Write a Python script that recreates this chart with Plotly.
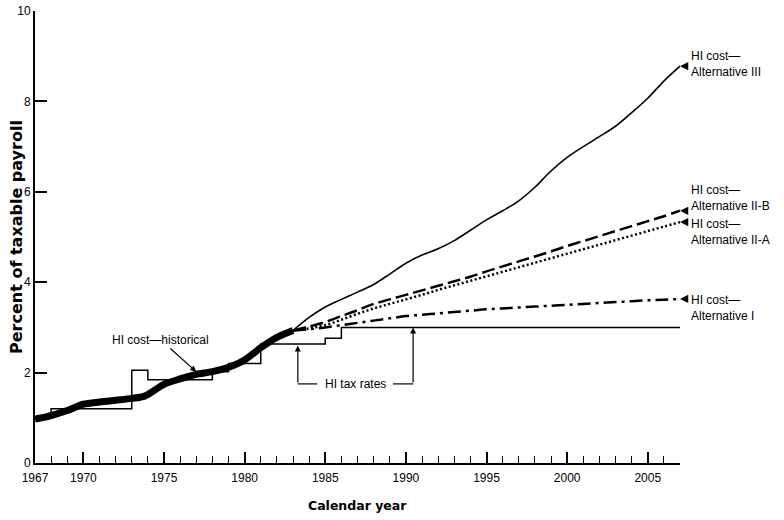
import plotly.graph_objects as go

# ---------------- data ----------------
hist_years = [1967, 1968, 1969, 1970, 1971, 1972, 1973, 1973.8, 1975, 1976, 1977, 1978, 1979, 1980, 1981, 1982, 1983]
hist_cost = [0.97, 1.05, 1.16, 1.30, 1.35, 1.39, 1.43, 1.48, 1.74, 1.86, 1.96, 2.02, 2.12, 2.28, 2.55, 2.78, 2.93]

tax_years = [1967, 1968, 1973, 1974, 1978, 1979, 1981, 1985, 1986, 2007]
tax_rates = [1.0, 1.2, 2.05, 1.84, 2.02, 2.2, 2.63, 2.76, 3.0, 3.0]

proj_years = [1983, 1984, 1985, 1986, 1987, 1988, 1989, 1990, 1991, 1992, 1993, 1994, 1995,
              1996, 1997, 1998, 1999, 2000, 2001, 2002, 2003, 2004, 2005, 2006, 2007]
alt_III = [2.93, 3.22, 3.45, 3.62, 3.78, 3.95, 4.18, 4.42, 4.60, 4.74, 4.92, 5.15, 5.38,
           5.58, 5.80, 6.10, 6.46, 6.76, 7.00, 7.22, 7.45, 7.75, 8.07, 8.45, 8.78]
alt_IIB = [2.93, 3.02, 3.12, 3.25, 3.38, 3.52, 3.62, 3.72, 3.82, 3.92, 4.02, 4.12, 4.24,
           4.35, 4.46, 4.57, 4.68, 4.80, 4.91, 5.02, 5.13, 5.24, 5.35, 5.46, 5.58]
alt_IIA = [2.93, 2.98, 3.05, 3.17, 3.30, 3.42, 3.52, 3.62, 3.72, 3.83, 3.93, 4.03, 4.13,
           4.23, 4.33, 4.43, 4.53, 4.63, 4.73, 4.83, 4.93, 5.03, 5.13, 5.23, 5.33]
alt_I = [2.93, 2.96, 3.00, 3.05, 3.10, 3.15, 3.20, 3.25, 3.28, 3.31, 3.34, 3.37, 3.40,
         3.42, 3.44, 3.46, 3.48, 3.50, 3.52, 3.54, 3.56, 3.58, 3.60, 3.61, 3.63]

x_tick_vals = [1967, 1970, 1975, 1980, 1985, 1990, 1995, 2000, 2005]
x_tick_text = ["1967", "1970", "1975", "1980", "1985", "1990", "1995", "2000", "2005"]
y_tick_vals = [0, 2, 4, 6, 8, 10]

alt_labels = ["HI cost—<br>Alternative III", "HI cost—<br>Alternative II-B",
              "HI cost—<br>Alternative II-A", "HI cost—<br>Alternative I"]
alt_label_y = [8.82, 5.86, 5.11, 3.43]

FONT = "Liberation Sans, Arial, Helvetica, sans-serif"
BOLD = "DejaVu Sans, Liberation Sans, Arial, sans-serif"

fig = go.Figure()

# tax rate step line
fig.add_trace(go.Scatter(x=tax_years, y=tax_rates, mode="lines",
                         line=dict(color="black", width=1.5, shape="hv"),
                         hoverinfo="skip", showlegend=False))

# projections
fig.add_trace(go.Scatter(x=proj_years, y=alt_I, mode="lines",
                         line=dict(color="black", width=2.5, dash="13px,5px,3px,5px", shape="spline"),
                         showlegend=False))
fig.add_trace(go.Scatter(x=proj_years, y=alt_IIA, mode="lines",
                         line=dict(color="black", width=2.5, dash="2px,2.5px", shape="spline"),
                         showlegend=False))
fig.add_trace(go.Scatter(x=proj_years, y=alt_IIB, mode="lines",
                         line=dict(color="black", width=2.5, dash="13px,5px", shape="spline"),
                         showlegend=False))
fig.add_trace(go.Scatter(x=proj_years, y=alt_III, mode="lines",
                         line=dict(color="black", width=1.6, shape="spline"),
                         showlegend=False))

# historical thick line
fig.add_trace(go.Scatter(x=hist_years, y=hist_cost, mode="lines",
                         line=dict(color="black", width=7, shape="spline", smoothing=0.8),
                         showlegend=False))

annotations = []
# right-side labels with arrowheads
ends = [alt_III[-1], alt_IIB[-1], alt_IIA[-1], alt_I[-1]]
for txt, ly, ey in zip(alt_labels, alt_label_y, ends):
    annotations.append(dict(xref="paper", yref="y", x=1.0, y=ly, xanchor="left", yanchor="middle",
                            xshift=9, text=txt, showarrow=False, align="left",
                            font=dict(family=FONT, size=12, color="black")))
    annotations.append(dict(x=proj_years[-1], y=ey, xref="x", yref="y", text="", showarrow=True,
                            ax=9, ay=0, arrowhead=2, arrowsize=1.1, arrowwidth=1.5, arrowcolor="black",
                            standoff=0))

# historical label
annotations.append(dict(x=1977.0, y=2.02, xref="x", yref="y", ax=1974.8, ay=2.72,
                        axref="x", ayref="y", text="HI cost—historical", showarrow=True,
                        arrowhead=2, arrowsize=1, arrowwidth=1.2, arrowcolor="black",
                        font=dict(family=FONT, size=12, color="black")))

# HI tax rates bracket
annotations.append(dict(x=1986.9, y=1.75, xref="x", yref="y", text="HI tax rates", showarrow=False,
                        font=dict(family=FONT, size=12, color="black")))
annotations.append(dict(x=1983.3, y=2.6, xref="x", yref="y", ax=1983.3, ay=1.75,
                        axref="x", ayref="y", text="", showarrow=True,
                        arrowhead=2, arrowsize=1, arrowwidth=1.2, arrowcolor="black"))
annotations.append(dict(x=1990.45, y=3.0, xref="x", yref="y", ax=1990.45, ay=1.75,
                        axref="x", ayref="y", text="", showarrow=True,
                        arrowhead=2, arrowsize=1, arrowwidth=1.2, arrowcolor="black"))

# axis titles
annotations.append(dict(xref="paper", yref="paper", x=0.5, y=0, yshift=-42, xanchor="center",
                        yanchor="middle", text="<b>Calendar year</b>", showarrow=False,
                        font=dict(family=BOLD, size=12.5, color="black")))
annotations.append(dict(xref="paper", yref="paper", x=0, y=0.5, xshift=-19, yanchor="middle",
                        xanchor="center", text="<b>Percent of taxable payroll</b>", showarrow=False,
                        textangle=-90, font=dict(family=BOLD, size=16, color="black")))

shapes = [
    dict(type="line", xref="x", yref="y", x0=1983.3, x1=1984.5, y0=1.75, y1=1.75,
         line=dict(color="black", width=1.2)),
    dict(type="line", xref="x", yref="y", x0=1989.2, x1=1990.45, y0=1.75, y1=1.75,
         line=dict(color="black", width=1.2)),
]

fig.update_layout(
    width=784, height=520,
    margin=dict(l=35, r=104, t=11, b=57, autoexpand=False),
    plot_bgcolor="white", paper_bgcolor="white",
    annotations=annotations, shapes=shapes,
    showlegend=False,
    font=dict(family=FONT, size=12, color="black"),
)

fig.update_xaxes(
    range=[1967, 2007], tickmode="array", tickvals=x_tick_vals, ticktext=x_tick_text,
    ticks="inside", ticklen=11, tickwidth=1.5, tickcolor="black",
    showline=True, linewidth=2, linecolor="black", showgrid=False, zeroline=False,
    minor=dict(tickmode="linear", tick0=1967, dtick=1, ticks="inside", ticklen=7,
               tickwidth=1.3, tickcolor="black", showgrid=False),
    tickfont=dict(family=FONT, size=12, color="black"), automargin=False,
    ticklabelstandoff=3,
)
fig.update_yaxes(
    range=[0, 10], tickmode="array", tickvals=y_tick_vals,
    ticks="inside", ticklen=12, tickwidth=1.5, tickcolor="black",
    showline=True, linewidth=2, linecolor="black", showgrid=False, zeroline=False,
    tickfont=dict(family=FONT, size=12, color="black"), automargin=False,
)

fig.write_html("out.html", config={"displayModeBar": False},
               post_script="document.body.style.margin='0';document.body.style.padding='0';")
